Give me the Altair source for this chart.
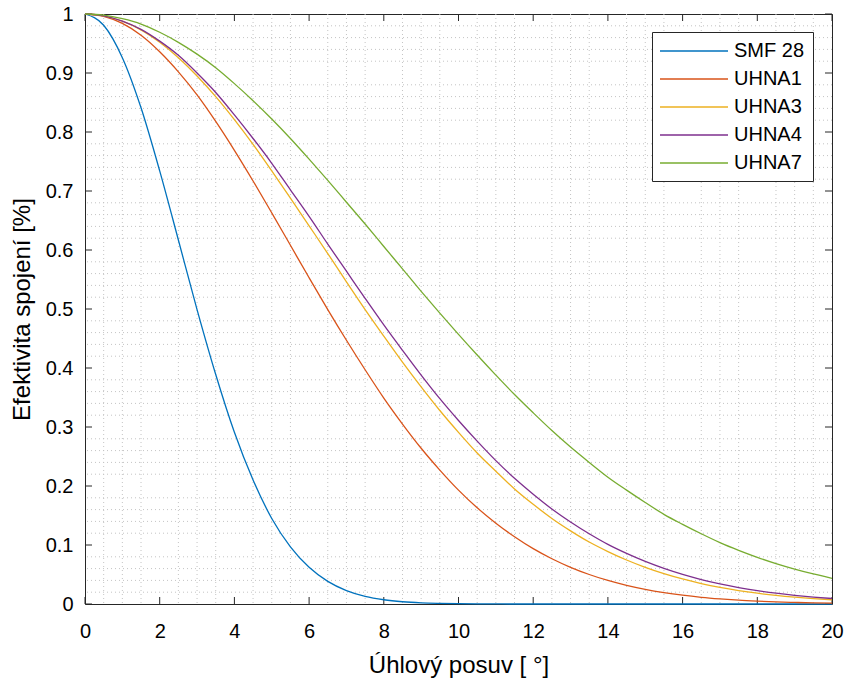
import altair as alt
import pandas as pd

# ---- data ----
angle = [0, 0.5, 1, 1.5, 2, 2.5, 3, 3.5, 4, 4.5, 5, 5.5, 6, 6.5, 7, 7.5, 8, 8.5, 9, 9.5,
         10, 10.5, 11, 11.5, 12, 12.5, 13, 13.5, 14, 14.5, 15, 15.5, 16, 16.5, 17, 17.5,
         18, 18.5, 19, 19.5, 20]

series_names = ["SMF 28", "UHNA1", "UHNA3", "UHNA4", "UHNA7"]

smf28 = [1, 0.981, 0.926, 0.841, 0.734, 0.617, 0.499, 0.389, 0.291, 0.210, 0.145, 0.0969,
         0.0622, 0.0384, 0.0228, 0.0130, 0.0072, 0.0038, 0.0019, 0.0010, 0.0005, 0.0002,
         0.0001, 0, 0, 0, 0, 0, 0, 0, 0, 0, 0, 0, 0, 0, 0, 0, 0, 0, 0]
uhna1 = [1, 0.996, 0.984, 0.964, 0.936, 0.902, 0.863, 0.818, 0.769, 0.717, 0.663, 0.608,
         0.553, 0.499, 0.447, 0.397, 0.349, 0.305, 0.264, 0.227, 0.193, 0.163, 0.137, 0.114,
         0.0938, 0.0767, 0.0622, 0.0500, 0.0399, 0.0316, 0.0248, 0.0193, 0.0149, 0.0114,
         0.0087, 0.0065, 0.0049, 0.0036, 0.0027, 0.0019, 0.0014]
uhna3 = [1, 0.997, 0.988, 0.973, 0.952, 0.926, 0.895, 0.860, 0.821, 0.779, 0.734, 0.688,
         0.641, 0.594, 0.546, 0.499, 0.454, 0.410, 0.368, 0.328, 0.291, 0.256, 0.225, 0.195,
         0.169, 0.145, 0.124, 0.105, 0.0889, 0.0746, 0.0622, 0.0515, 0.0424, 0.0347, 0.0282,
         0.0228, 0.0183, 0.0146, 0.0116, 0.0092, 0.0072]
uhna4 = [1, 0.997, 0.988, 0.974, 0.954, 0.930, 0.900, 0.867, 0.829, 0.789, 0.747, 0.702,
         0.657, 0.610, 0.564, 0.518, 0.473, 0.430, 0.388, 0.348, 0.311, 0.276, 0.243, 0.213,
         0.186, 0.161, 0.139, 0.119, 0.101, 0.0857, 0.0721, 0.0603, 0.0502, 0.0415, 0.0341,
         0.0279, 0.0227, 0.0183, 0.0147, 0.0117, 0.0093]
uhna7 = [1, 0.998, 0.992, 0.983, 0.969, 0.952, 0.932, 0.909, 0.882, 0.853, 0.822, 0.789,
         0.754, 0.718, 0.681, 0.644, 0.606, 0.568, 0.530, 0.493, 0.457, 0.422, 0.388, 0.355,
         0.324, 0.294, 0.266, 0.240, 0.215, 0.193, 0.172, 0.152, 0.135, 0.119, 0.104,
         0.0909, 0.0791, 0.0685, 0.0592, 0.0509, 0.0436]

colors = ["#0072BD", "#D95319", "#EDB120", "#7E2F8E", "#77AC30"]

x_major = [0, 2, 4, 6, 8, 10, 12, 14, 16, 18, 20]
y_major = [0, 0.1, 0.2, 0.3, 0.4, 0.5, 0.6, 0.7, 0.8, 0.9, 1]
x_minor = [v for v in angle if v not in x_major]
y_minor = [round(i * 0.02, 2) for i in range(1, 50) if i % 5 != 0]

x_title = "Úhlový posuv [ °]"
y_title = "Efektivita spojení [%]"

# ---- build table ----
rows = []
for name, vals in zip(series_names, [smf28, uhna1, uhna3, uhna4, uhna7]):
    for a, v in zip(angle, vals):
        rows.append({"angle": a, "eff": v, "fiber": name})
df = pd.DataFrame(rows)

W, H = 747, 590
FONT = "Liberation Sans"
AX = "#262626"
TICK = 7

xs = alt.Scale(domain=[0, 20], nice=False, zero=False)
ys = alt.Scale(domain=[0, 1], nice=False, zero=False)

x_axis = alt.Axis(values=x_major, title=x_title, format="d", labelFlush=False,
                  labelPadding=17, titlePadding=12)
y_axis = alt.Axis(values=y_major, title=y_title, format=".1~f", labelFlush=False,
                  labelPadding=12, titlePadding=11)

grid_style = dict(color="#c4c4c4", strokeDash=[1, 3], strokeWidth=1)

grid_x = alt.Chart(pd.DataFrame({"g": x_minor})).mark_rule(**grid_style).encode(
    x=alt.X("g:Q", scale=xs, axis=x_axis)
)
grid_y = alt.Chart(pd.DataFrame({"g": y_minor})).mark_rule(**grid_style).encode(
    y=alt.Y("g:Q", scale=ys, axis=y_axis)
)

xt_df = pd.DataFrame({"t": x_major})
yt_df = pd.DataFrame({"t": y_major})
tick_style = dict(color=AX, strokeWidth=1)
ticks_bottom = alt.Chart(xt_df).mark_rule(**tick_style).encode(
    x=alt.X("t:Q", scale=xs, axis=x_axis), y=alt.value(H - TICK), y2=alt.value(H))
ticks_top = alt.Chart(xt_df).mark_rule(**tick_style).encode(
    x=alt.X("t:Q", scale=xs, axis=x_axis), y=alt.value(0), y2=alt.value(TICK))
ticks_left = alt.Chart(yt_df).mark_rule(**tick_style).encode(
    y=alt.Y("t:Q", scale=ys, axis=y_axis), x=alt.value(0), x2=alt.value(TICK))
ticks_right = alt.Chart(yt_df).mark_rule(**tick_style).encode(
    y=alt.Y("t:Q", scale=ys, axis=y_axis), x=alt.value(W - TICK), x2=alt.value(W))

lines = alt.Chart(df).mark_line(strokeWidth=1.3, interpolate="monotone").encode(
    x=alt.X("angle:Q", scale=xs, axis=x_axis),
    y=alt.Y("eff:Q", scale=ys, axis=y_axis),
    color=alt.Color("fiber:N",
                    scale=alt.Scale(domain=series_names, range=colors),
                    legend=alt.Legend(title=None, orient="none", legendX=567, legendY=18,
                                      symbolType="M-1.1,0H5.7", symbolSize=400,
                                      symbolStrokeWidth=1.3, labelFontSize=20,
                                      labelFont=FONT, labelColor="#000000",
                                      labelOffset=52, padding=8, rowPadding=7,
                                      strokeColor=AX, fillColor="white",
                                      cornerRadius=0, labelLimit=300)),
)

chart = alt.layer(
    grid_x, grid_y, ticks_bottom, ticks_top, ticks_left, ticks_right, lines
).properties(
    width=W, height=H,
    padding={"left": 85, "top": 14, "right": 15, "bottom": 76},
    autosize=alt.AutoSizeParams(type="none"),
    background="white",
).configure_view(
    stroke=AX, strokeWidth=1
).configure_axis(
    ticks=False, tickSize=0, domain=False, grid=False,
    labelFont=FONT, labelFontSize=20, labelColor="#000000",
    titleFont=FONT, titleFontSize=24, titleFontWeight="normal", titleColor="#000000",
)

chart.save("out.html", embed_options={"renderer": "svg", "actions": False})
